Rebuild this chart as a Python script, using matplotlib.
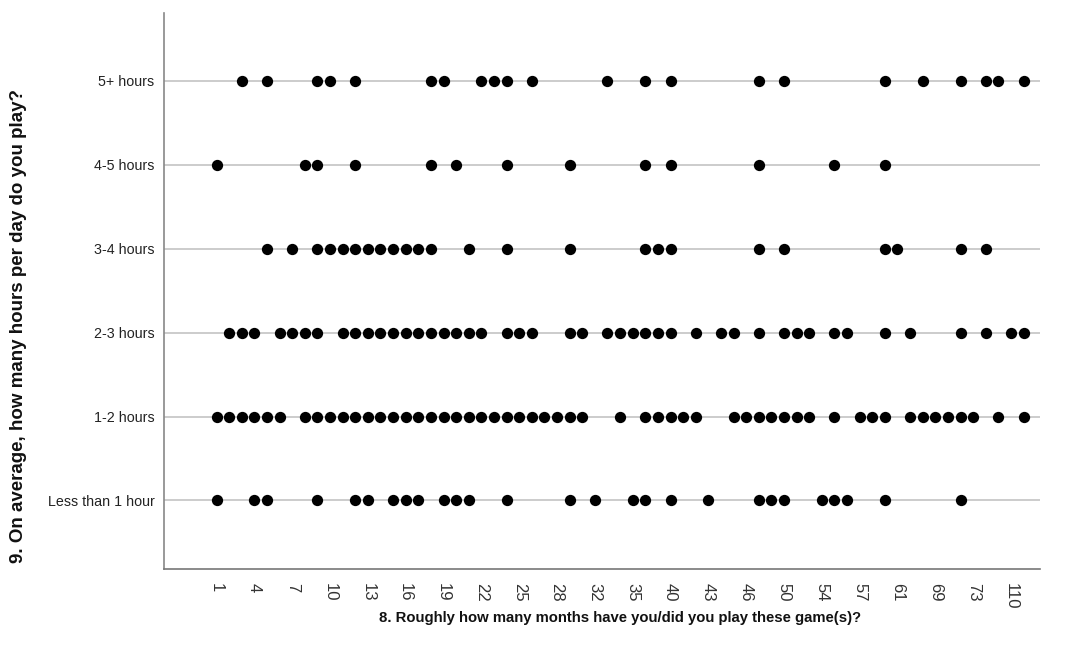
import matplotlib
matplotlib.use("Agg")
import matplotlib.pyplot as plt

# x categories (distinct month values, in axis order)
months_categories = [1, 2, 3, 4, 5, 6, 7, 8, 9, 10, 11, 12, 13, 14, 15, 16, 17, 18, 19, 20,
                     21, 22, 23, 24, 25, 26, 27, 28, 30, 31, 32, 33, 34, 35, 36, 38, 40, 41,
                     42, 43, 44, 45, 46, 48, 49, 50, 51, 52, 54, 55, 56, 57, 58, 60, 61, 63,
                     66, 69, 70, 72, 73, 84, 96, 110, 120]

# y categories (bottom to top)
hours_categories = ["Less than 1 hour", "1-2 hours", "2-3 hours", "3-4 hours", "4-5 hours", "5+ hours"]

# months observed for each hours group
months_lt1 = [1, 4, 5, 9, 12, 13, 15, 16, 17, 19, 20, 21, 24, 30, 32, 35, 36, 40, 43, 48, 49,
              50, 54, 55, 56, 60, 72]
months_1_2 = [1, 2, 3, 4, 5, 6, 8, 9, 10, 11, 12, 13, 14, 15, 16, 17, 18, 19, 20, 21, 22, 23,
              24, 25, 26, 27, 28, 30, 31, 34, 36, 38, 40, 41, 42, 45, 46, 48, 49, 50, 51, 52,
              55, 57, 58, 60, 63, 66, 69, 70, 72, 73, 96, 120]
months_2_3 = [2, 3, 4, 6, 7, 8, 9, 11, 12, 13, 14, 15, 16, 17, 18, 19, 20, 21, 22, 24, 25, 26,
              30, 31, 33, 34, 35, 36, 38, 40, 42, 44, 45, 48, 50, 51, 52, 55, 56, 60, 63, 72,
              84, 110, 120]
months_3_4 = [5, 7, 9, 10, 11, 12, 13, 14, 15, 16, 17, 18, 21, 24, 30, 36, 38, 40, 48, 50, 60,
              61, 72, 84]
months_4_5 = [1, 8, 9, 12, 18, 20, 24, 30, 36, 40, 48, 55, 60]
months_5p = [3, 5, 9, 10, 12, 18, 19, 22, 23, 24, 26, 33, 36, 40, 48, 50, 60, 66, 72, 84, 96, 120]

groups = [months_lt1, months_1_2, months_2_3, months_3_4, months_4_5, months_5p]

x_title = "8. Roughly how many months have you/did you play these game(s)?"
y_title = "9. On average, how many hours per day do you play?"

plt.rcParams['font.family'] = ['Liberation Sans', 'DejaVu Sans']

fig = plt.figure(figsize=(10.70, 6.55), dpi=100)
ax = fig.add_axes([164.3 / 1070, 1 - 569.3 / 655, (1040 - 164.3) / 1070, (569.3 - 12.7) / 655])

# grid lines
for yi in range(len(hours_categories)):
    ax.axhline(yi, color="#cccccc", lw=1.4, zorder=1)

for yi, grp in enumerate(groups):
    xs = [months_categories.index(v) for v in grp]
    ys = [yi] * len(xs)
    ax.scatter(xs, ys, s=66, color="black", linewidths=0, zorder=3)

ax.set_xlim(-4.14, 65.3)
ax.set_ylim(-0.82, 5.81)

tick_pos = list(range(0, len(months_categories), 3))
ax.set_xticks(tick_pos)
ax.set_xticklabels([str(months_categories[i]) for i in tick_pos], rotation=270,
                   fontsize=12, color="#333333", va="top", ha="center")
ax.set_yticks(range(len(hours_categories)))
ax.set_yticklabels(hours_categories, fontsize=10.3, color="#222222")
ax.tick_params(axis="both", length=0)
ax.tick_params(axis="x", pad=10)
ax.tick_params(axis="y", pad=7)

for side in ["top", "right"]:
    ax.spines[side].set_visible(False)
ax.spines["left"].set_color("#888888")
ax.spines["bottom"].set_color("#777777")
ax.spines["left"].set_linewidth(1.2)
ax.spines["bottom"].set_linewidth(1.2)

fig.text(620 / 1070, 1 - 618 / 655, x_title, ha="center", va="center", fontsize=10.7,
         fontweight="bold", color="#111111")
fig.text(19 / 1070, 1 - 326 / 655, y_title, ha="center", va="center", rotation=90,
         fontsize=13.5, fontweight="bold", color="#111111")

fig.savefig("out.png", dpi=100)
